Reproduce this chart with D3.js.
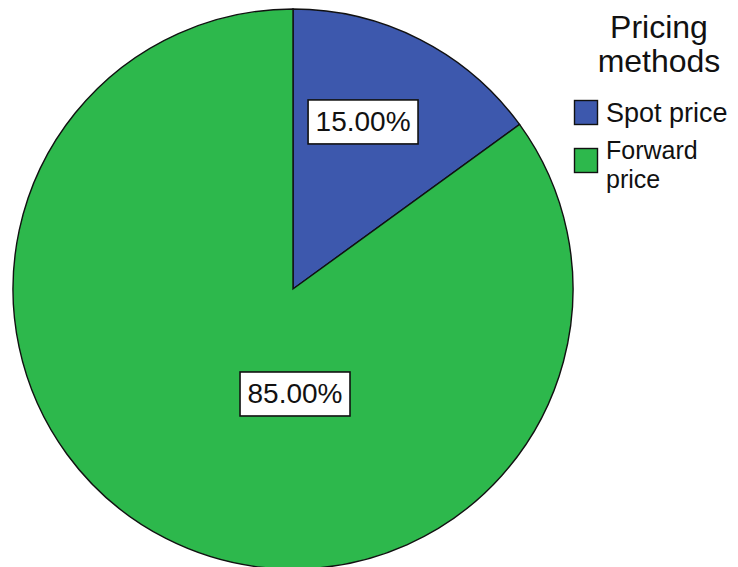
<!DOCTYPE html>
<html>
<head>
<meta charset="utf-8">
<script src="https://cdn.jsdelivr.net/npm/d3@7/dist/d3.min.js"></script>
<style>
  html, body { margin: 0; padding: 0; background: #fff; }
  svg { display: block; }
  text { font-family: "Liberation Sans", Arial, sans-serif; fill: #111; }
</style>
</head>
<body>
<svg id="chart" width="738" height="567"></svg>
<script>
// ---- data ----
const categories = ["Spot price", "Forward price"];
const shares = [15.00, 85.00];
const colors = ["#3d58ad", "#2db84c"];
const legendTitle = ["Pricing", "methods"];
const legendLines = [["Spot price"], ["Forward", "price"]];

// ---- layout ----
const cx = 293, cy = 289, R = 280;
// label placement (polar: angle in degrees clockwise from 12 o'clock, fraction of radius)
const labelPolar = [[22.75, 0.647], [178.9, 0.375]];

const svg = d3.select("#chart");
const pie = d3.pie().sort(null).value(d => d)(shares);
const arc = d3.arc().innerRadius(0).outerRadius(R);

const g = svg.append("g").attr("transform", `translate(${cx},${cy})`);
g.selectAll("path.slice").data(pie).enter().append("path")
  .attr("class", "slice")
  .attr("d", arc)
  .attr("fill", (d, i) => colors[i])
  .attr("stroke", "#111")
  .attr("stroke-width", 1.4)
  .attr("stroke-linejoin", "miter");

// percentage labels
const fmt = d3.format(".2f");
pie.forEach((d, i) => {
  const a = labelPolar[i][0] * Math.PI / 180;
  const r = labelPolar[i][1] * R;
  const x = r * Math.sin(a), y = -r * Math.cos(a);
  const lg = g.append("g").attr("transform", `translate(${x},${y})`);
  const t = lg.append("text")
    .attr("text-anchor", "middle")
    .attr("dominant-baseline", "central")
    .attr("font-size", 28)
    .text(fmt(d.value) + "%");
  const bb = t.node().getBBox();
  lg.insert("rect", "text")
    .attr("x", -bb.width / 2 - 7.5)
    .attr("y", -22)
    .attr("width", bb.width + 15)
    .attr("height", 44)
    .attr("fill", "#fff")
    .attr("stroke", "#111")
    .attr("stroke-width", 1.6);
});

// legend
const lgd = svg.append("g");
const title = lgd.append("text")
  .attr("class", "title")
  .attr("text-anchor", "middle")
  .attr("font-size", 32);
title.selectAll("tspan").data(legendTitle).enter().append("tspan")
  .attr("x", 659)
  .attr("y", (d, i) => 38 + i * 34)
  .text(d => d);

const itemY = [100, 148];
categories.forEach((c, i) => {
  lgd.append("rect")
    .attr("x", 574.5).attr("y", itemY[i] + 0.5)
    .attr("width", 23).attr("height", 24)
    .attr("fill", colors[i])
    .attr("stroke", "#111").attr("stroke-width", 1.4);
  const multi = legendLines[i].length > 1;
  const t = lgd.append("text").attr("font-size", multi ? 25 : 27);
  t.selectAll("tspan").data(legendLines[i]).enter().append("tspan")
    .attr("x", 606)
    .attr("y", (ln, j) => itemY[i] + 22 + j * 28.5 - (multi ? 11 : 0))
    .attr("textLength", multi ? null : null)
    .text(ln => ln);
});
</script>
</body>
</html>
